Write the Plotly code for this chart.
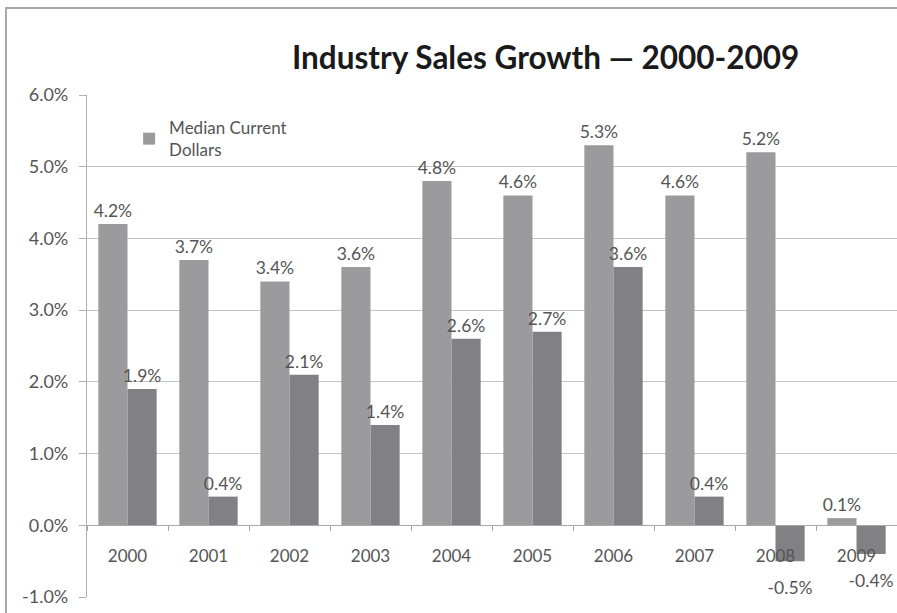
import plotly.graph_objects as go

years = ["2000", "2001", "2002", "2003", "2004", "2005", "2006", "2007", "2008", "2009"]
median_current = [4.2, 3.7, 3.4, 3.6, 4.8, 4.6, 5.3, 4.6, 5.2, 0.1]
second_series = [1.9, 0.4, 2.1, 1.4, 2.6, 2.7, 3.6, 0.4, -0.5, -0.4]
y_ticks = [-1, 0, 1, 2, 3, 4, 5, 6]
y_tick_labels = ["-1.0%", "0.0%", "1.0%", "2.0%", "3.0%", "4.0%", "5.0%", "6.0%"]

FONT = "Lato"
TXT = "#555555"


def labels(vals):
    # negative values: label sits a little further below the bar, as in the reference
    return [f"{v:.1f}%" if v >= 0 else f"<span style='font-size:7px'> </span><br>{v:.1f}%" for v in vals]


fig = go.Figure()
fig.add_trace(go.Bar(
    x=years, y=median_current, name="Median Current<br>Dollars",
    marker=dict(color="#9b9b9e", line=dict(width=0)),
    text=labels(median_current), textposition="outside",
    textfont=dict(family=FONT, size=17.5, color=TXT),
    cliponaxis=False, constraintext="none", showlegend=True,
))
fig.add_trace(go.Bar(
    x=years, y=second_series, name="Series 2",
    marker=dict(color="#818185", line=dict(width=0)),
    text=labels(second_series), textposition="outside",
    textfont=dict(family=FONT, size=17.5, color=TXT),
    cliponaxis=False, constraintext="none", showlegend=False,
))

fig.update_layout(
    width=897, height=613,
    margin=dict(l=87, r=0, t=95, b=16),
    paper_bgcolor="white", plot_bgcolor="white",
    barmode="group", bargap=0.28, bargroupgap=0,
    font=dict(family=FONT, size=16, color=TXT),
    showlegend=True,
    legend=dict(x=0.052, y=0.97, xanchor="left", yanchor="top",
                bgcolor="rgba(0,0,0,0)", font=dict(family=FONT, size=17, color=TXT),
                itemwidth=30, tracegroupgap=0),
    annotations=[dict(
        text="<b>Industry Sales Growth \u2014 2000-2009</b>", xref="paper", yref="paper",
        x=(545 - 87) / 810, y=(597 - 57) / 502, xanchor="center", yanchor="middle",
        showarrow=False, font=dict(family=FONT, size=31.5, color="#1a1a1a"),
    )],
    shapes=[dict(
        type="rect", xref="paper", yref="paper",
        x0=(6 - 87) / 810, x1=1.1, y0=-0.2, y1=(597 - 8) / 502,
        line=dict(color="#a8a8a8", width=2), fillcolor="rgba(0,0,0,0)", layer="below",
    )],
)

fig.update_yaxes(
    range=[-1, 6], tickvals=y_ticks, ticktext=y_tick_labels,
    showgrid=True, gridcolor="#c4c4c4", gridwidth=1.4,
    zeroline=False, showline=True, linecolor="#b0b0b0", linewidth=1.3,
    ticks="outside", ticklen=7, tickcolor="#b0b0b0", ticklabelstandoff=7,
    tickfont=dict(family=FONT, size=18, color=TXT),
)
fig.update_xaxes(
    anchor="free", position=1 / 7, showline=True, linecolor="#a8a8a8", linewidth=1.3,
    ticks="outside", tickson="boundaries", ticklen=5, tickcolor="#a8a8a8",
    ticklabelstandoff=15, showgrid=False,
    tickfont=dict(family=FONT, size=17, color=TXT),
)

fig.write_html("out.html")
